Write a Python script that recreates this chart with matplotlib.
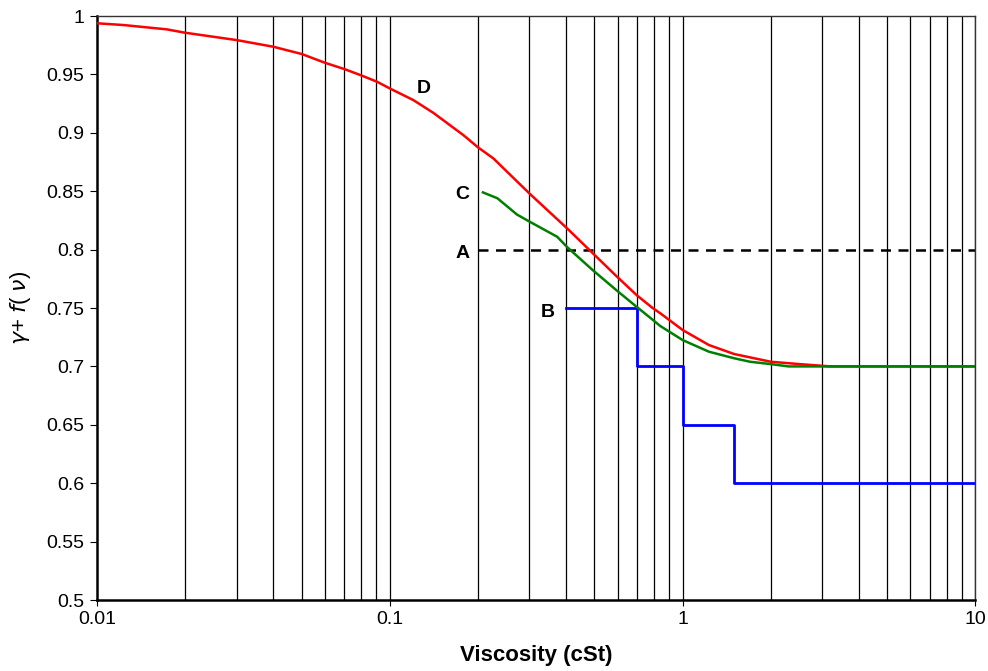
import matplotlib.pyplot as plt
from matplotlib.ticker import LogLocator, NullFormatter, FixedLocator

plt.rcParams['font.family'] = ['Liberation Sans', 'DejaVu Sans']

# curve D: gamma + f(nu) vs viscosity
d_visc = [0.01, 0.0123, 0.0173, 0.02, 0.03, 0.04, 0.05, 0.06, 0.0703, 0.0802, 0.0903, 0.1,
          0.1204, 0.141, 0.1784, 0.2, 0.226, 0.3, 0.404, 0.493, 0.596, 0.697, 0.79, 0.839,
          1.0, 1.23, 1.5, 2.0, 2.5, 3.2, 10]
d_vals = [0.9938, 0.9923, 0.9886, 0.9857, 0.9794, 0.9737, 0.9675, 0.960, 0.9544, 0.949,
          0.9438, 0.938, 0.928, 0.917, 0.898, 0.8876, 0.878, 0.848, 0.818, 0.797, 0.777,
          0.761, 0.750, 0.7455, 0.7312, 0.7183, 0.7106, 0.704, 0.702, 0.700, 0.700]

# curve C
c_visc = [0.208, 0.233, 0.272, 0.30, 0.373, 0.404, 0.493, 0.596, 0.697, 0.79, 0.839,
          1.0, 1.23, 1.5, 1.7, 2.0, 2.3, 10]
c_vals = [0.849, 0.844, 0.830, 0.824, 0.811, 0.802, 0.7825, 0.765, 0.751, 0.740, 0.7346,
          0.7226, 0.7126, 0.707, 0.704, 0.702, 0.700, 0.700]

# line A: constant value
a_visc = [0.2, 10]
a_vals = [0.8, 0.8]

# step B
b_visc = [0.4, 0.7, 0.7, 1.0, 1.0, 1.5, 1.5, 10]
b_vals = [0.75, 0.75, 0.7, 0.7, 0.65, 0.65, 0.6, 0.6]

labels = {'D': (0.131, 0.938), 'C': (0.177, 0.847), 'A': (0.177, 0.797), 'B': (0.345, 0.746)}

fig = plt.figure(figsize=(9.88, 6.71), dpi=100)
ax = fig.add_axes([0.0982, 0.1058, 0.889, 0.8703])

ax.set_xscale('log')
ax.set_xlim(0.01, 10)
ax.set_ylim(0.5, 1.0)

# vertical grid at every decade and sub-decade value
grid_x = [m * 10.0 ** e for e in (-2, -1, 0) for m in range(1, 10)][1:] + [10]
for gx in grid_x:
    ax.axvline(gx, color='black', linewidth=0.9, zorder=1)

ax.plot(a_visc, a_vals, color='black', linestyle=(0, (4, 3)), linewidth=1.8, zorder=2)
ax.plot(b_visc, b_vals, color='#0000ff', linewidth=2.0, zorder=3)
ax.plot(d_visc, d_vals, color='#ff0000', linewidth=1.8, zorder=4)
ax.plot(c_visc, c_vals, color='#008000', linewidth=1.8, zorder=5)

for name, (lx, ly) in labels.items():
    ax.text(lx, ly, name, fontsize=14, fontweight='bold', ha='center', va='center')

ax.xaxis.set_major_locator(FixedLocator([0.01, 0.1, 1, 10]))
ax.xaxis.set_major_formatter(plt.FuncFormatter(lambda v, p: '%g' % v))
ax.xaxis.set_minor_locator(LogLocator(base=10, subs=range(2, 10)))
ax.xaxis.set_minor_formatter(NullFormatter())
ax.tick_params(axis='x', which='minor', length=0)
ax.tick_params(axis='x', which='major', length=4, labelsize=14, pad=4)

ax.set_yticks([0.5 + 0.05 * i for i in range(11)])
ax.set_yticklabels(['0.5', '0.55', '0.6', '0.65', '0.7', '0.75', '0.8', '0.85', '0.9', '0.95', '1'])
ax.tick_params(axis='y', length=5, labelsize=14, pad=4)

for side in ('left', 'bottom'):
    ax.spines[side].set_linewidth(1.8)
for side in ('top', 'right'):
    ax.spines[side].set_linewidth(1.0)
    ax.spines[side].set_color('#333333')

ax.set_xlabel('Viscosity (cSt)', fontsize=16, fontweight='bold', labelpad=12)
ax.set_ylabel(r'$\gamma$+ $f$( $\nu$)', fontsize=16, labelpad=10)

fig.savefig('out.png', dpi=100)
